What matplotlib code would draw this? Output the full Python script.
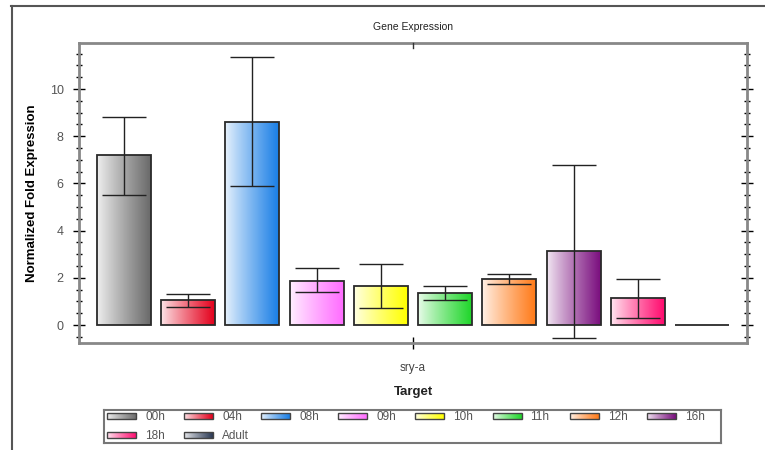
import numpy as np
import matplotlib
matplotlib.use("Agg")
import matplotlib.pyplot as plt
from matplotlib.patches import Rectangle
from matplotlib.colors import to_rgb
from matplotlib.ticker import MultipleLocator
from matplotlib.lines import Line2D

plt.rcParams['font.family'] = ['Liberation Sans', 'DejaVu Sans']

# ---------------- data ----------------
labels = ['00h', '04h', '08h', '09h', '10h', '11h', '12h', '16h', '18h', 'Adult']
values = [7.2, 1.05, 8.6, 1.87, 1.65, 1.35, 1.95, 3.15, 1.15, 0.0]
err_upper = [8.8, 1.3, 11.35, 2.4, 2.6, 1.65, 2.15, 6.8, 1.97, np.nan]
err_lower = [5.5, 0.78, 5.9, 1.4, 0.72, 1.06, 1.73, -0.55, 0.28, np.nan]
colors = ['#6a6a6a', '#e4001c', '#1a7fe6', '#ff6cff', '#ffff00',
          '#1fd62a', '#ff7a18', '#7a0e7e', '#ff0a6e', '#2c3a55']
target = ['sry-a']
title = 'Gene Expression'
ylabel = 'Normalized Fold Expression'
xlabel = 'Target'

# ---------------- figure ----------------
fig = plt.figure(figsize=(7.65, 4.5), dpi=100)
ax = fig.add_axes([79/765, 1-343/450, 668/765, 300/450])


def gradient_img(c, n=64):
    c = np.array(to_rgb(c))
    light = c * 0.1 + np.ones(3) * 0.9
    t = np.linspace(0, 1, n) ** 0.9
    row = light[None, :] * (1 - t[:, None]) + c[None, :] * t[:, None]
    return row[None, :, :]


width = 0.84
x = np.arange(len(labels))
for xi, v, c in zip(x, values, colors):
    rect = Rectangle((xi - width/2, 0), width, v, facecolor='none',
                     edgecolor='#2a2a2a', linewidth=1.3, zorder=3)
    ax.add_patch(rect)
    if v > 0:
        im = ax.imshow(gradient_img(c), extent=[xi - width/2, xi + width/2, 0, v],
                       aspect='auto', zorder=2, interpolation='bilinear')
        im.set_clip_path(rect)

vals = np.array(values)
up = np.array(err_upper) - vals
lo = vals - np.array(err_lower)
ax.errorbar(x, vals, yerr=[lo, up], fmt='none', ecolor='#222222',
            elinewidth=1.0, capsize=16, capthick=1.0, zorder=4)

ax.set_xlim(-0.7, len(labels) - 0.3)
ax.set_ylim(-0.76, 11.95)
ax.set_xticks([(len(labels) - 1) / 2])
ax.set_xticklabels(target, fontsize=8.5, color='#444444')
ax.yaxis.set_major_locator(MultipleLocator(2))
ax.yaxis.set_minor_locator(MultipleLocator(0.5))
ax.set_yticks(np.arange(0, 12, 2))
ax.tick_params(axis='y', which='major', direction='inout', length=8, width=1,
               labelsize=9, labelcolor='#555555', right=True, left=True, pad=7)
ax.tick_params(axis='y', which='minor', direction='inout', length=4, width=1,
               right=True, left=True)
ax.tick_params(axis='x', which='major', direction='inout', length=8, width=1,
               top=False, bottom=True, pad=10)
# small inward tick on top spine at the target position
ax.plot([(len(labels) - 1) / 2] * 2, [11.95, 11.75], color='#333333', lw=1,
        clip_on=False, zorder=5)
for s in ax.spines.values():
    s.set_color('#888888')
    s.set_linewidth(2)
ax.set_ylabel(ylabel, fontsize=9.5, fontweight='bold')
ax.yaxis.set_label_coords(-0.062, 0.5)

fig.text(413/765, 1-27/450, title, ha='center', va='center', fontsize=7.5, color='#222222')
fig.text(413/765, 1-392/450, xlabel, ha='center', va='center', fontsize=9.5,
         fontweight='bold', color='#222222')

# ---------------- legend ----------------
lax = fig.add_axes([104/765, 1-443/450, 617/765, 33/450])
lax.set_xlim(0, 617)
lax.set_ylim(33, 0)
lax.set_xticks([])
lax.set_yticks([])
for s in lax.spines.values():
    s.set_color('#777777')
    s.set_linewidth(1.5)
for i, (lab, c) in enumerate(zip(labels, colors)):
    col, row = i % 8, i // 8
    x0 = 3 + col * 77.1
    yc = 6 + row * 18.5
    r = Rectangle((x0, yc - 3), 29, 6, facecolor='none', edgecolor='#444444',
                  linewidth=1.0, zorder=3)
    lax.add_patch(r)
    im = lax.imshow(gradient_img(c), extent=[x0, x0 + 29, yc + 3, yc - 3],
                    aspect='auto', zorder=2, interpolation='bilinear')
    im.set_clip_path(r)
    lax.text(x0 + 38, yc, lab, ha='left', va='center_baseline', fontsize=8.5,
             color='#555555')

# outer frame lines
fig.add_artist(Line2D([11/765, 1], [1-6/450, 1-6/450], color='#555555', lw=1.5))
fig.add_artist(Line2D([12/765, 12/765], [0, 1-6/450], color='#555555', lw=1.5))

fig.savefig('out.png', dpi=100)
